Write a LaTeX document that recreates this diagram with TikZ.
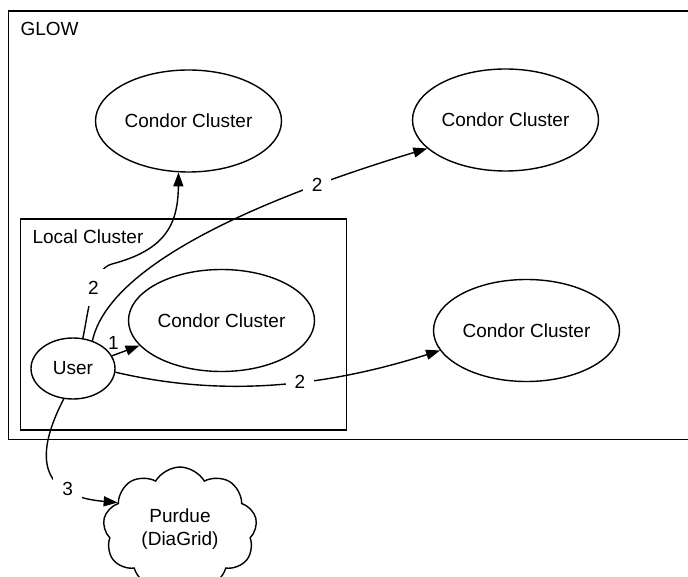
\documentclass[tikz,border=0pt]{standalone}
\usepackage{fontspec}
\setmainfont{Liberation Sans}
\usetikzlibrary{shapes.geometric,shapes.symbols,arrows.meta}

\tikzset{
	every node/.style={font=\fontsize{19}{23}\selectfont},
	frame/.style={draw, line width=1.4pt},
	cluster/.style={draw, ellipse, line width=1.4pt, minimum width=186pt, minimum height=102pt, inner sep=0pt},
	usernode/.style={draw, ellipse, line width=1.4pt, minimum width=84pt, minimum height=61pt, inner sep=0pt},
	link/.style={line width=1.4pt, -{Triangle[length=14pt,width=10pt]}},
	lbl/.style={fill=white, inner xsep=9pt, inner ysep=12pt}
}

\begin{document}
\begin{tikzpicture}[x=1pt,y=-1pt]
	\useasboundingbox (0,0) rectangle (688,577);
	\clip (0,0) rectangle (688,577);
	% boxes
	\draw[frame] (8.5,11) rectangle (700,439.5);
	\node[anchor=base west] (glow) at (17,36) {GLOW};
	\draw[frame] (20.7,219) rectangle (346.7,430);
	\node[anchor=base west] (local) at (29,244) {Local Cluster};
	% pools
	\node[cluster] (ccA) at (188.5,121) {Condor Cluster};
	\node[cluster] (ccB) at (505.5,120) {Condor Cluster};
	\node[cluster] (ccL) at (221.5,320.5) {Condor Cluster};
	\node[cluster] (ccR) at (526.5,330.5) {Condor Cluster};
	\node[usernode] (user) at (73,368.5) {User};
	\node[cloud, draw, line width=1.4pt, cloud puffs=9, cloud puff arc=120, minimum width=154pt, minimum height=112pt, align=center, inner sep=0pt] (purdue) at (180,529) {Purdue\\(DiaGrid)};
	\coordinate (bendA) at (112,264);
	% jobs
	\draw[link] (user.18.6) -- node[pos=0.05, above, inner sep=5pt] {1} (ccL.197.4);
	\draw[link] (user.72) .. controls (89,309) and (92,269) .. node[lbl, pos=0.55] {2} (bendA) .. controls (165,250) and (178,225) .. (ccA.259);
	\draw[link] (user.55.5) .. controls (108,270) and (240,205) .. node[lbl, pos=0.79] {2} (ccB.200.4);
	\draw[link] (user.355) .. controls (200,392) and (300,395) .. node[lbl, pos=0.63] {2} (ccR.193.3);
	\draw[link] (user.253.6) .. controls (40,445) and (30,495) .. node[lbl, pos=0.74] {3} (purdue.157);
\end{tikzpicture}
\end{document}
